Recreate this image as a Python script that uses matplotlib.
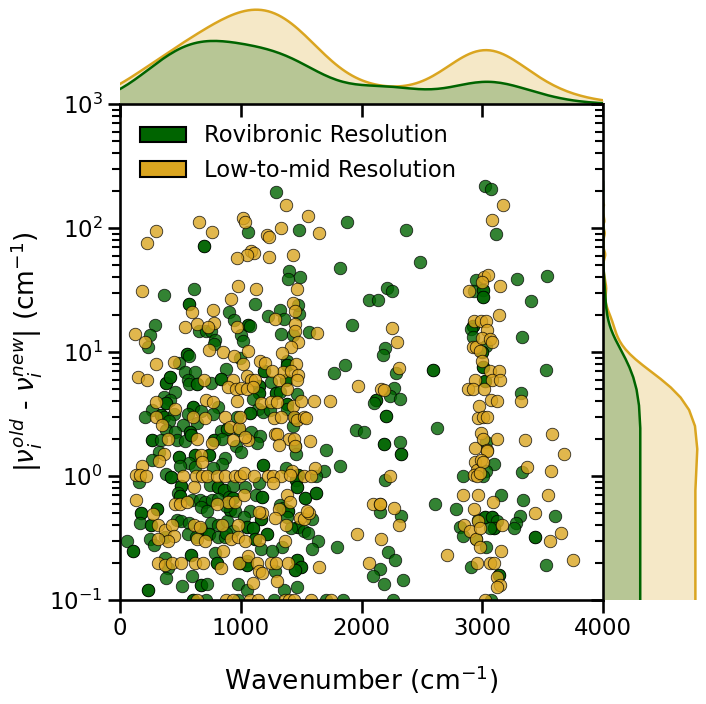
import numpy as np
import matplotlib
matplotlib.use("Agg")
import matplotlib.pyplot as plt
from matplotlib.patches import Patch

# ---------------- data (wavenumber cm^-1, |nu_old - nu_new| cm^-1) ----------------
rovib_points = [
(1295,194),(1882,111),(1057,92),(1485,96),(693,72),(693,72),(1819,48),(1397,45),(1391,39),(1493,40),(613,32),(364,29),
(3022,217),(3069,206),(3116,89),(2366,97),(2484,53),(2213,33),(2255,31),(2066,26.5),(2140,26.5),(2948,38),(3287,39),(3533,41),
(2934,31),(3006,31.5),(3006,31.5),(3006,27.6),(3006,27.6),(3403,26),
(571,24.5),(571,24.5),(900,21),(946,18),(287,16.5),(654,14.7),(712,14.7),(756,14.7),(246,13.7),(232,11),(787,12.6),(776,11.6),
(552,9.7),(552,9.7),(569,9.2),(489,8.1),(536,6.9),(623,6.9),(875,7.3),(378,5.6),(378,5.6),(416,6.25),(416,6.25),(566,5.9),(574,5.5),
(635,5.5),(635,5.5),(756,5.6),(839,6.1),(839,6.1),(455,4.8),(362,4.3),(416,4.1),(383,3.86),(383,3.86),(604,3.6),(604,3.6),(814,3.6),
(267,3.4),(342,3.1),(342,3.1),(364,3.0),(209,3.0),(445,3.16),(561,3.16),(673,3.36),(770,3.16),(969,3.0),(406,2.76),(522,2.58),(635,2.7),
(381,2.35),(458,2.25),(580,2.26),(580,2.26),(834,2.3),(883,2.4),(883,2.4),(262,1.94),(262,1.94),(342,1.96),(474,1.96),(536,1.93),
(585,2.13),(585,2.13),(778,1.96),(778,1.96),(847,1.99),(963,1.74),
(1115,24.4),(1482,20.2),(1474,23.8),(1225,19.6),(1322,21.8),(1355,18.6),(1060,16.6),(1060,16.6),(1076,16.1),(1333,13.9),(1430,13.8),
(1567,14.5),(1923,16.4),(1004,13.8),(1016,12.2),(991,8.95),(1385,8.5),(1383,7.8),(1383,7.8),(1190,7.0),(1190,7.0),(1769,6.8),(1863,7.8),
(1248,5.7),(1372,5.9),(1372,5.9),(1148,5.3),(1148,5.3),(1153,4.7),(1153,4.7),(1294,4.7),(1294,4.7),(1325,4.75),(1463,4.6),(1104,4.2),
(1380,3.8),(1380,3.8),(1385,3.5),(1143,3.5),(1184,3.3),(1242,3.4),(1074,3.2),(1074,3.2),(1452,2.95),(1452,2.95),(1430,2.55),(988,2.35),
(1087,2.26),(1157,2.1),(1134,1.85),(1447,1.74),(1952,2.36),(1706,1.62),
(2192,10.8),(2175,9.4),(2288,6.8),(2589,7.1),(2589,7.1),(2271,5.1),(2238,4.4),(2318,4.2),(2117,4.1),(2117,4.1),(2103,3.9),(2202,3.06),
(2202,3.06),(2622,2.45),(2018,2.25),(2186,1.82),(2186,1.82),(2318,1.88),
(2923,16.1),(2923,16.1),(2909,15.3),(2925,13.2),
(3033,11.2),(3331,13.2),(2997,10),(2997,10),(3003,7.5),(3003,7.5),(3020,5.8),(3020,5.8),(3525,7.2),(3323,4.7),(3033,1.87),
(320,1.56),(267,1.35),(489,1.42),(489,1.42),(621,1.49),(621,1.49),(734,1.47),(734,1.47),(574,1.28),(499,1.2),(623,1.18),(867,1.4),
(847,1.26),(768,1.16),(383,1.04),(420,0.98),(420,0.98),(157,0.89),(508,0.83),(508,0.83),(745,0.84),(811,0.81),(811,0.81),(859,0.77),
(859,0.77),(936,0.83),(480,0.73),(497,0.69),(497,0.69),(594,0.64),(662,0.64),(701,0.62),(764,0.64),(811,0.65),(900,0.68),(938,0.67),
(938,0.67),(668,0.56),(723,0.52),(913,0.53),(913,0.53),(955,0.52),(880,0.57),(172,0.5),(172,0.5),(306,0.54),(306,0.54),(163,0.42),
(259,0.4),(259,0.4),(474,0.44),(503,0.435),(569,0.42),(668,0.375),(668,0.375),(751,0.42),(811,0.4),(883,0.43),(936,0.36),(563,0.34),
(734,0.34),(734,0.34),(627,0.32),(375,0.32),(251,0.31),(282,0.28),(60,0.3),(105,0.25),(105,0.25),(811,0.32),(867,0.32),(880,0.35),
(789,0.24),(590,0.23),(590,0.23),(370,0.22),(806,0.2),(806,0.2),(397,0.18),(383,0.15),(596,0.157),(516,0.13),(668,0.133),(668,0.133),
(718,0.135),(977,0.135),(232,0.12),(232,0.12),(604,0.1),(604,0.1),(710,0.1),(977,0.1),
(1460,1.5),(999,1.56),(1184,1.23),(1184,1.23),(1377,1.15),(1687,1.1),(1824,1.21),(1474,1.02),(1474,1.02),(1460,0.93),(1460,0.93),
(1625,1.0),(1151,0.88),(1466,0.82),(1466,0.82),(1033,0.81),(1124,0.7),(1178,0.68),(1178,0.68),(1532,0.67),(1532,0.67),(1623,0.73),
(1623,0.73),(1327,0.58),(1350,0.55),(1391,0.525),(1391,0.525),(1079,0.52),(1027,0.47),(1170,0.45),(1170,0.45),(1385,0.47),(1592,0.45),
(1054,0.385),(1054,0.385),(1101,0.38),(1101,0.38),(1474,0.39),(1474,0.39),(1418,0.38),(1526,0.36),(1559,0.35),(1217,0.34),(1217,0.34),
(1115,0.31),(1115,0.31),(1639,0.3),(1344,0.27),(1590,0.26),(1797,0.27),(1168,0.26),(1261,0.25),(1054,0.207),(991,0.2),(991,0.2),
(1052,0.193),(1052,0.193),(1466,0.21),(1466,0.21),(1496,0.184),(1496,0.184),(1447,0.175),(1447,0.175),(1286,0.172),(1052,0.12),
(1355,0.12),(1468,0.127),(1276,0.1),(1846,0.1),(1710,0.1),
(2324,1.5),(2324,1.5),(2192,0.93),(2150,0.51),(2324,0.48),(2611,0.6),(2780,0.545),(2219,0.244),(2275,0.21),(2155,0.177),(2092,0.157),
(2183,0.134),(2346,0.144),(2258,0.1),(2840,1.0),(2964,0.444),(2813,0.39),(2840,0.33),(2950,0.313),(2909,0.186),
(3097,1.26),(3033,1.09),(3006,1.0),(3329,1.07),(3157,0.7),(3337,0.64),(3604,0.48),(3309,0.475),(3281,0.42),(3260,0.38),(3020,0.47),
(3020,0.47),(3080,0.47),(3080,0.47),(3122,0.43),(3097,0.38),(3097,0.38),(3061,0.38),(3439,0.32),(3439,0.32),(3033,0.266),(3525,0.19),
(3138,0.16),(3138,0.16),(3075,0.1),
]

lowmid_points = [
(1372,152),(1557,126),(652,112),(1021,120),(1033,112),(296,94),(764,92),(1333,100),(1648,91),(221,76),(1217,87),(1236,85),(1087,65),
(1107,63),(1049,61),(971,57),(1236,58),(1430,61),(980,34),(1126,32),(1466,32),(182,31),(919,27),
(3174,154),(3083,116),(3014,40),(3047,42),(2997,37),(3146,34),(2892,31),
(594,21),(770,21.7),(640,16.9),(776,17.1),(729,15.9),(538,16),(966,16),(122,14),(209,12),(737,10.4),(855,10),(941,9.3),(296,8.0),
(445,8.3),(152,6.25),(226,6.0),(696,6.0),(938,6.0),(894,5.2),(958,5.0),(296,3.95),(715,4.1),(770,3.95),(458,3.5),(969,4.05),(301,3.0),
(604,3.0),(701,2.95),(867,3.0),(348,2.6),(913,2.5),(983,2.44),(397,2.0),(640,2.0),(764,1.84),(936,1.96),
(1430,24.8),(1449,21.3),(1286,18.6),(1449,16.8),(1452,14.7),(1629,14.2),(1476,12),(1416,11),(1060,10.1),(1344,9.8),(1016,8.0),
(1162,8.5),(1198,8.1),(1457,8.0),(1347,6.9),(1418,7.0),(1256,7.0),(1474,6.5),(1463,6.0),(1054,6.4),(1087,6.0),(1120,6.0),(1317,6.0),
(999,5.1),(1054,5.0),(1101,5.2),(1385,5.0),(1973,5.3),(1170,3.9),(1253,3.95),(1300,3.95),(1435,3.65),(1501,4.0),(1609,4.0),(1741,4.0),
(996,3.0),(1275,2.95),(1331,3.0),(1443,3.0),(1468,2.85),(1524,3.0),(1540,2.95),(1286,2.18),(1297,2.2),(1060,1.96),(1033,2.05),
(1397,2.0),(1441,2.0),(1576,1.9),(1317,1.78),(1447,1.74),
(2250,15.7),(2294,12),(2308,7.4),(2159,5.0),(2183,4.9),(2934,17.9),(2923,11),(2950,10.9),(2937,6.0),(2881,5.0),(2923,5.0),(2970,3.7),
(2964,2.94),(2937,1.68),
(3136,20),(2987,17.9),(3033,17.9),(3039,15),(2997,13),(3061,12.8),(3083,12),(2978,10.1),(2997,8.5),(3061,7.0),(3136,7.0),(3083,6.0),
(3144,6.0),(3011,5.0),(3323,4.0),(3069,4.1),(3124,4.0),(3006,3.0),(3039,3.0),(2987,2.22),(3122,2.0),(3006,2.0),(3351,1.96),(3577,2.2),
(3041,1.63),
(364,1.5),(325,1.31),(673,1.47),(679,1.29),(185,1.2),(135,1.02),(168,1.02),(218,1.0),(522,1.0),(627,1.0),(676,1.0),(723,1.0),(806,1.0),
(867,1.0),(950,1.0),(613,0.81),(130,0.64),(458,0.6),(499,0.59),(557,0.62),(897,0.62),(950,0.62),(806,0.59),(273,0.49),(315,0.4),
(370,0.365),(433,0.4),(610,0.4),(665,0.39),(845,0.4),(975,0.4),(638,0.31),(706,0.3),(447,0.33),(397,0.3),(315,0.31),(922,0.31),
(855,0.25),(315,0.2),(370,0.19),(433,0.2),(508,0.2),(623,0.2),(687,0.2),(834,0.18),(983,0.2),(637,0.1),(875,0.1),(936,0.1),
(1427,1.09),(1615,1.16),(991,1.0),(1024,1.06),(1110,1.0),(1225,1.0),(1269,1.0),(1331,1.0),(1408,1.02),(1521,1.0),(1584,1.0),
(1267,0.87),(1029,0.7),(1385,0.7),(1410,0.62),(1314,0.545),(1176,0.5),(1148,0.51),(1286,0.46),(1488,0.46),(1521,0.45),(1565,0.5),
(1548,0.52),(1377,0.4),(977,0.32),(1037,0.3),(1148,0.305),(1364,0.3),(1962,0.34),(1060,0.225),(1137,0.2),(1253,0.2),(1289,0.2),
(1391,0.2),(1650,0.184),(1148,0.17),(1176,0.165),(1101,0.138),(1300,0.142),(1074,0.1),(1143,0.1),(1366,0.1),(1402,0.1),(1443,0.1),
(1584,0.1),(1749,0.1),
(2236,1.0),(2095,0.59),(2150,0.6),(2150,0.6),(2266,0.55),(2313,0.4),(2164,0.31),(2059,0.2),(2710,0.23),(2941,1.3),(2956,1.11),
(2931,1.01),(2956,1.0),(2838,0.7),(2964,0.7),(2929,0.545),(2964,0.43),(2848,0.4),(2895,0.36),(2950,0.313),(2958,0.2),
(3039,1.6),(2992,1.34),(3006,1.3),(2978,1.06),(3370,1.18),(3566,1.1),(3676,1.5),(3089,0.62),(3544,0.7),(3434,0.5),(3166,0.4),
(2978,0.38),(3558,0.3),(3649,0.35),(2978,0.27),(3152,0.25),(3066,0.2),(3094,0.2),(3751,0.21),(3122,0.153),(3144,0.131),(3122,0.127),
(3020,0.1),
]

series_labels = ["Rovibronic Resolution", "Low-to-mid Resolution"]
series_colors = ["darkgreen", "goldenrod"]
x_ticks = [0, 1000, 2000, 3000, 4000]

# marginal KDE styling: relative weight of each series per margin, bandwidth of the y-marginal
x_marg_weights = [0.39, 0.61]
y_marg_weights = [0.36, 0.64]
y_marg_bw = [6.0, 3.6]

rovib_wn, rovib_err = map(np.array, zip(*rovib_points))
lowmid_wn, lowmid_err = map(np.array, zip(*lowmid_points))
groups = [(rovib_wn, rovib_err), (lowmid_wn, lowmid_err)]


def kde(data, weight, bw=None, gridsize=200, cut=3):
    data = np.asarray(data, float)
    n = len(data)
    if bw is None:
        bw = n ** (-1 / 5) * data.std(ddof=1)
    grid = np.linspace(data.min() - cut * bw, data.max() + cut * bw, gridsize)
    dens = np.exp(-0.5 * ((grid[:, None] - data[None, :]) / bw) ** 2).sum(1)
    dens = dens / (n * bw * np.sqrt(2 * np.pi)) * weight
    return grid, dens


# ---------------- style (seaborn "talk"-like) ----------------
plt.rcParams.update({
    "font.family": ["DejaVu Sans"],
    "mathtext.fontset": "dejavusans",
    "axes.linewidth": 1.875,
    "xtick.major.width": 1.875, "ytick.major.width": 1.875,
    "xtick.minor.width": 1.5, "ytick.minor.width": 1.5,
    "xtick.major.size": 9, "ytick.major.size": 9,
    "xtick.minor.size": 6, "ytick.minor.size": 6,
    "xtick.labelsize": 16.5, "ytick.labelsize": 16.5,
    "axes.labelsize": 19, "legend.fontsize": 16.3,
    "patch.linewidth": 1.5,
})

W, H = 706, 704
fig = plt.figure(figsize=(W / 100, H / 100), dpi=100)
ax = fig.add_axes([120 / W, (H - 600) / H, 483 / W, 496 / H])
ax_top = fig.add_axes([120 / W, (H - 104) / H, 483 / W, 99 / H], sharex=ax)
ax_right = fig.add_axes([603 / W, (H - 600) / H, 99 / W, 496 / H], sharey=ax)

# scatter
for (wn, err), col in zip(groups, series_colors):
    ax.scatter(wn, err, s=81, color=col, alpha=0.8, edgecolors="black",
               linewidths=0.6, zorder=2)

ax.set_yscale("log")
ax.set_xticks(x_ticks)
ax.set_xlabel("Wavenumber (cm$^{-1}$)", labelpad=17)
ax.set_ylabel(r"$|\nu_i^{old}$ - $\nu_i^{new}|$ (cm$^{-1}$)")
for s in ["top", "right"]:
    ax.spines[s].set_visible(False)

# marginal KDEs (layered, first series on top)
maxx = 0
maxy = 0
for idx in [1, 0]:
    wn, err = groups[idx]
    col = series_colors[idx]
    gx, dx = kde(wn, x_marg_weights[idx])
    ax_top.fill_between(gx, 0, dx, color=col, alpha=0.25, linewidth=0)
    ax_top.plot(gx, dx, color=col, lw=1.8)
    gy, dy = kde(err, y_marg_weights[idx], bw=y_marg_bw[idx])
    ax_right.fill_betweenx(gy, 0, dy, color=col, alpha=0.25, linewidth=0)
    ax_right.plot(dy, gy, color=col, lw=1.8)
    maxx = max(maxx, dx.max())
    maxy = max(maxy, dy.max())

ax_top.set_ylim(0, maxx * 1.05)
ax_right.set_xlim(0, maxy * 1.05)
ax.set_xlim(0, 4000)
ax.set_ylim(0.1, 1000)

for s in ["top", "right", "left"]:
    ax_top.spines[s].set_visible(False)
ax_top.tick_params(axis="x", labelbottom=False)
ax_top.tick_params(axis="y", left=False, labelleft=False)
ax_top.tick_params(axis="x", which="minor", bottom=False)

for s in ["top", "right", "bottom"]:
    ax_right.spines[s].set_visible(False)
ax_right.tick_params(axis="y", which="both", labelleft=False)
ax_right.tick_params(axis="x", bottom=False, labelbottom=False)

handles = [Patch(facecolor=c, edgecolor="black", label=l) for c, l in zip(series_colors, series_labels)]
ax.legend(handles=handles, loc="upper left", frameon=False)

fig.savefig("out.png", dpi=100)
